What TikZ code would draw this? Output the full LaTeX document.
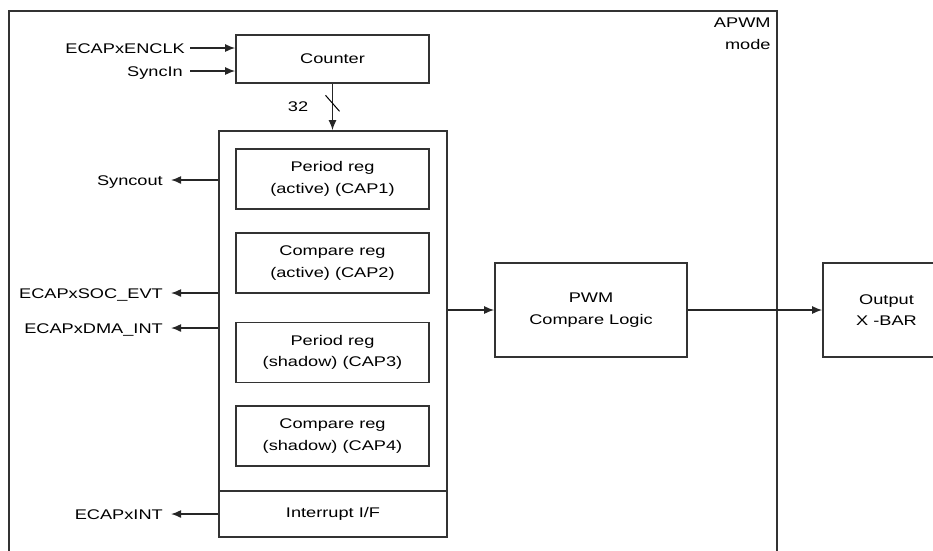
\documentclass[tikz,border=0pt]{standalone}
\usepackage{fontspec}
\setmainfont[FakeStretch=1.3]{Liberation Sans}
\usetikzlibrary{arrows.meta,positioning}

\begin{document}
\begin{tikzpicture}[
        x=1pt, y=-1pt,
        font=\fontsize{14}{21.5}\selectfont,
        block/.style={
            draw=black!80,
            line width=1.6pt,
            align=center,
            inner sep=0pt
        },
        reg/.style={
            block,
            minimum width=193pt,
            minimum height=60pt
        },
        pin/.style={anchor=east, inner sep=0pt,
            text height=10pt, text depth=0pt},
        wire/.style={-{Latex[length=10pt,width=8pt]}, line width=1.5pt,
            draw=black!85}
    ]
        \useasboundingbox (0,0) rectangle (933,550);
        \clip (0,0) rectangle (933,550);

        % APWM mode frame (open at the bottom of the page)
        \node[block, line width=1.8pt, minimum width=768pt,
            minimum height=560pt, anchor=north west] (frame) at (8,10) {};
        \node[anchor=north east, align=right, inner sep=0pt] (mode)
            at ([shift={(-7,8)}]frame.north east) {APWM\\mode};

        % Counter and capture registers
        \node[block, minimum width=193pt, minimum height=48pt] (counter)
            at (332.5,59) {Counter};
        \node[block, minimum width=228pt, minimum height=406pt] (cap)
            at (333,334) {};
        \node[block, minimum width=228pt, minimum height=46pt] (intf)
            at (333,514) {Interrupt I/F};

        \node[reg] (cap1) at (332.5,179) {Period reg\\(active) (CAP1)};
        \node[reg] (cap2) at (332.5,263) {Compare reg\\(active) (CAP2)};
        \node[reg] (cap3) at (332.5,352.5) {Period reg\\(shadow) (CAP3)};
        \node[reg] (cap4) at (332.5,436) {Compare reg\\(shadow) (CAP4)};

        \node[block, minimum width=192pt, minimum height=94pt] (pwm)
            at (591,310) {PWM\\Compare Logic};
        \node[block, minimum width=127pt, minimum height=94pt] (xbar)
            at (886.5,310) {Output\\X -BAR};

        % Inputs
        \node[pin] (encclk) at (185,48) {ECAPxENCLK};
        \node[pin] (syncin) at (183,71) {SyncIn};
        \draw[wire] ([xshift=5pt]encclk.east) -- (encclk.east -| counter.west);
        \draw[wire] ([xshift=7pt]syncin.east) -- (syncin.east -| counter.west);

        % 32-bit counter bus
        \draw[wire] (counter.south) -- (counter.south |- cap.north)
            coordinate[pos=0.42] (tick);
        \draw[line width=1pt] (tick) ++(-7,-8) -- ++(14,16);
        \node (buswidth) at (298,107) {32};

        % Outputs
        \node[pin] (syncout) at (163,180) {Syncout};
        \node[pin] (socevt) at (163,293) {ECAPxSOC\_EVT};
        \node[pin] (dmaint) at (163,328) {ECAPxDMA\_INT};
        \node[pin] (ecapint) at (163,514) {ECAPxINT};
        \draw[wire] (cap.west |- syncout) -- ([xshift=8pt]syncout.east);
        \draw[wire] (cap.west |- socevt) -- ([xshift=8pt]socevt.east);
        \draw[wire] (cap.west |- dmaint) -- ([xshift=8pt]dmaint.east);
        \draw[wire] (intf.west |- ecapint) -- ([xshift=8pt]ecapint.east);

        \draw[wire] (cap.east |- pwm) -- (pwm.west);
        \draw[wire] (pwm.east) -- (xbar.west);
    \end{tikzpicture}
\end{document}
